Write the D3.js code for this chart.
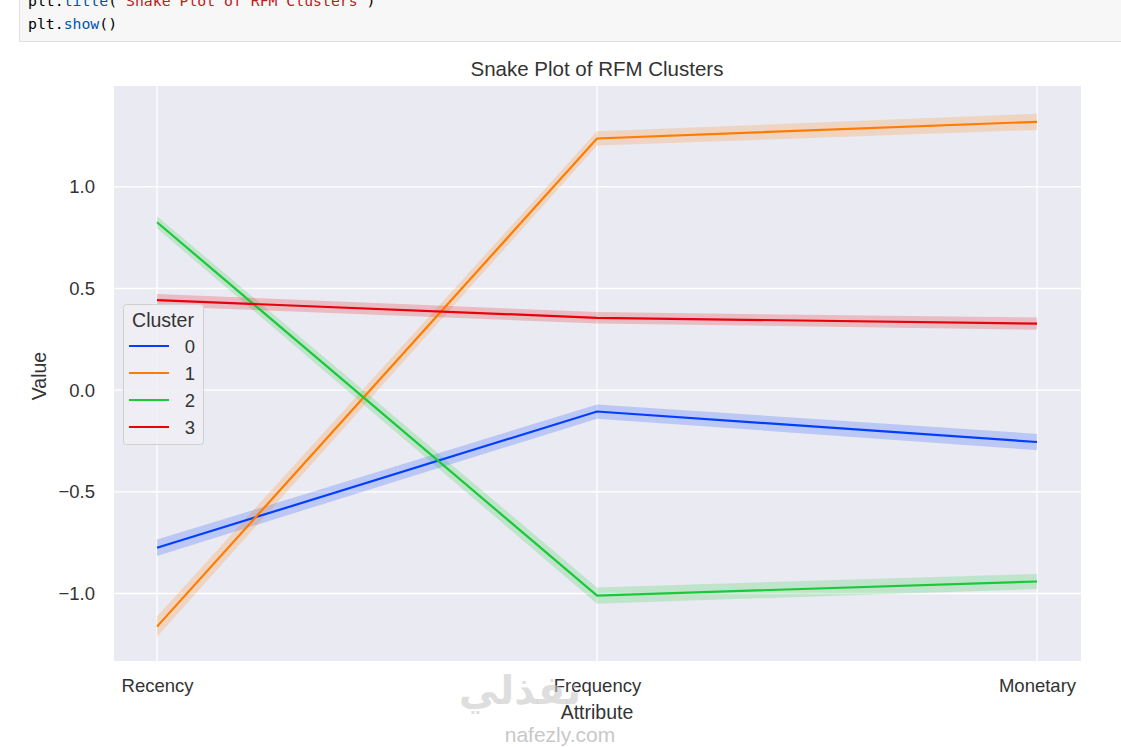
<!DOCTYPE html>
<html>
<head>
<meta charset="utf-8">
<script src="https://cdn.jsdelivr.net/npm/d3@7"></script>
<style>
  body { margin: 0; background: #fff; }
  svg { display: block; }
</style>
</head>
<body>
<svg id="chart" width="1121" height="747"></svg>
<script>
// data
const attributes = ["Recency", "Frequency", "Monetary"];
const clusters = ["0", "1", "2", "3"];
const colors = ["#023eff", "#ff7c00", "#1ac938", "#e8000b"];
const meanValues = [
  [-0.775, -0.105, -0.255],
  [-1.163, 1.238, 1.32],
  [0.826, -1.01, -0.941],
  [0.443, 0.356, 0.327]
];
const ciHalf = [
  [0.04, 0.035, 0.04],
  [0.05, 0.035, 0.04],
  [0.03, 0.04, 0.037],
  [0.03, 0.028, 0.03]
];
const yTicks = [-1.0, -0.5, 0.0, 0.5, 1.0];

const svg = d3.select("#chart");
const font = "'Liberation Sans', Arial, sans-serif";
const textColor = "#333";
const mono = "'DejaVu Sans Mono', monospace";

// notebook code cell at the top (cut off)
svg.append("rect")
  .attr("x", 19.5).attr("y", -5).attr("width", 1110).attr("height", 46.5)
  .attr("fill", "#f7f7f7").attr("stroke", "#e0e0e0");
const code1 = svg.append("text").attr("x", 28).attr("y", 6)
  .style("font-family", mono).style("font-size", "14.8px");
code1.append("tspan").attr("fill", "#000").text("plt.");
code1.append("tspan").attr("fill", "#0055aa").text("title");
code1.append("tspan").attr("fill", "#000").text("(");
code1.append("tspan").attr("fill", "#ba2121").text("'Snake Plot of RFM Clusters'");
code1.append("tspan").attr("fill", "#000").text(")");
const code2 = svg.append("text").attr("x", 28).attr("y", 29)
  .style("font-family", mono).style("font-size", "14.8px");
code2.append("tspan").attr("fill", "#000").text("plt.");
code2.append("tspan").attr("fill", "#0055aa").text("show");
code2.append("tspan").attr("fill", "#000").text("()");

// plot area
const plot = { left: 114, top: 86, right: 1081, bottom: 661 };

const x = d3.scalePoint().domain(attributes)
  .range([157, 1037]);
const y = d3.scaleLinear().domain([-1.332, 1.496])
  .range([plot.bottom, plot.top]);

svg.append("rect")
  .attr("x", plot.left).attr("y", plot.top)
  .attr("width", plot.right - plot.left).attr("height", plot.bottom - plot.top)
  .attr("fill", "#eaeaf2");

// grid lines
svg.append("g").selectAll("line").data(yTicks).join("line")
  .attr("x1", plot.left).attr("x2", plot.right)
  .attr("y1", d => y(d)).attr("y2", d => y(d))
  .attr("stroke", "#fff").attr("stroke-width", 1.3);
svg.append("g").selectAll("line").data(attributes).join("line")
  .attr("x1", d => x(d)).attr("x2", d => x(d))
  .attr("y1", plot.top).attr("y2", plot.bottom)
  .attr("stroke", "#fff").attr("stroke-width", 1.3);

// axes (tick labels only)
const yAxis = svg.append("g")
  .attr("transform", `translate(${plot.left},0)`)
  .call(d3.axisLeft(y).tickValues(yTicks).tickSize(0).tickPadding(19)
    .tickFormat(d => d3.format(".1f")(d).replace("-", "\u2212")));
yAxis.select(".domain").remove();
yAxis.selectAll("text").attr("fill", textColor)
  .style("font-family", font).style("font-size", "18.5px");

const xAxis = svg.append("g")
  .attr("transform", `translate(0,${plot.bottom})`)
  .call(d3.axisBottom(x).tickSize(0).tickPadding(18));
xAxis.select(".domain").remove();
xAxis.selectAll("text").attr("fill", textColor)
  .style("font-family", font).style("font-size", "18.5px");

// bands and lines
const series = clusters.map((c, i) => ({
  name: c,
  color: colors[i],
  points: attributes.map((a, j) => ({ a, v: meanValues[i][j], h: ciHalf[i][j] }))
}));

const area = d3.area()
  .x(d => x(d.a))
  .y0(d => y(d.v - d.h))
  .y1(d => y(d.v + d.h));
const line = d3.line()
  .x(d => x(d.a))
  .y(d => y(d.v));

svg.append("g").selectAll("path").data(series).join("path")
  .attr("d", d => area(d.points))
  .attr("fill", d => d.color).attr("fill-opacity", 0.2);
svg.append("g").selectAll("path").data(series).join("path")
  .attr("d", d => line(d.points))
  .attr("fill", "none").attr("stroke", d => d.color).attr("stroke-width", 2.2);

// title and axis labels
svg.append("text").attr("x", 597).attr("y", 76)
  .attr("text-anchor", "middle").attr("fill", textColor)
  .style("font-family", font).style("font-size", "20.5px")
  .text("Snake Plot of RFM Clusters");
svg.append("text").attr("x", 597).attr("y", 719)
  .attr("text-anchor", "middle").attr("fill", textColor)
  .style("font-family", font).style("font-size", "19.5px")
  .text("Attribute");
svg.append("text")
  .attr("transform", "translate(46,376) rotate(-90)")
  .attr("text-anchor", "middle").attr("fill", textColor)
  .style("font-family", font).style("font-size", "19.5px")
  .text("Value");

// legend
const legend = svg.append("g");
legend.append("rect")
  .attr("x", 123.5).attr("y", 304.5).attr("width", 80).attr("height", 140)
  .attr("rx", 3).attr("fill", "#eeeef4").attr("fill-opacity", 0.9)
  .attr("stroke", "#d0d0d0");
legend.append("text").attr("x", 163).attr("y", 327)
  .attr("text-anchor", "middle").attr("fill", textColor)
  .style("font-family", font).style("font-size", "19.5px")
  .text("Cluster");
const items = legend.selectAll("g.item").data(series).join("g")
  .attr("class", "item")
  .attr("transform", (d, i) => `translate(0,${346 + i * 27})`);
items.append("line")
  .attr("x1", 129).attr("x2", 169)
  .attr("stroke", d => d.color).attr("stroke-width", 2.2);
items.append("text").attr("x", 190).attr("y", 6.5)
  .attr("text-anchor", "middle").attr("fill", textColor)
  .style("font-family", font).style("font-size", "18.5px")
  .text(d => d.name);

// watermark
svg.append("text").attr("x", 520).attr("y", 704)
  .attr("text-anchor", "middle").attr("fill", "#c8c8c8").attr("fill-opacity", 0.6)
  .style("font-family", "'Noto Sans', 'DejaVu Sans', sans-serif")
  .style("font-size", "40px").style("font-weight", "bold")
  .text("نفذلي");
svg.append("text").attr("x", 560).attr("y", 742)
  .attr("text-anchor", "middle").attr("fill", "#c8c8c8")
  .style("font-family", font).style("font-size", "21px")
  .text("nafezly.com");
</script>
</body>
</html>
